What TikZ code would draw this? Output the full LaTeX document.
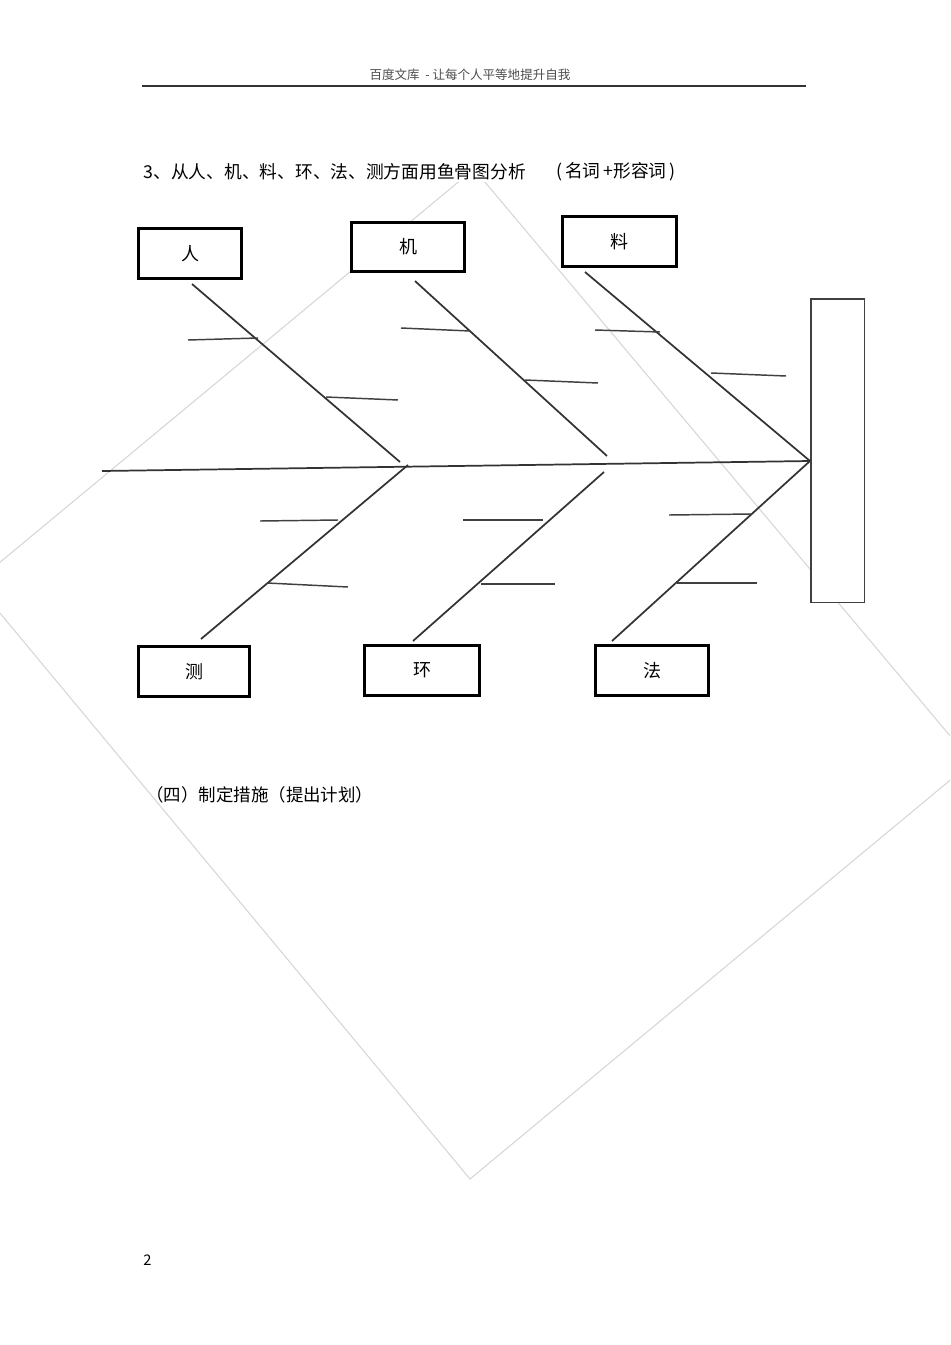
\documentclass[tikz,border=0pt]{standalone}
\usepackage{fontspec}
\setmainfont{Noto Sans CJK SC}
\begin{document}
\begin{tikzpicture}[x=0.75pt,y=-0.75pt,
  box/.style={draw=black, line width=2.2pt, fill=white, inner sep=0pt, font=\fontsize{13.5}{16}\selectfont},
  effectbox/.style={draw=black!75, line width=1.1pt, fill=white, inner sep=0pt},
  bone/.style={draw=black!80, line width=1.3pt},
  subbone/.style={draw=black!75, line width=1.1pt},
  wm/.style={draw=black!16, line width=0.8pt},
  txt/.style={inner sep=0pt, font=\fontsize{13.3}{16}\selectfont}]
\useasboundingbox (0,0) rectangle (950,1345);
% watermark rectangle
\begin{scope}
\clip (0,0) rectangle (950,1345);
\coordinate (wt) at (474,169);
\coordinate (wr) at (972,762);
\coordinate (wb) at (470,1179);
\coordinate (wl) at (-25,583);
\draw[wm] (wt) -- (wr) -- (wb) -- (wl) -- cycle;
\end{scope}
% header
\node[inner sep=0pt, text=black!70, font=\fontsize{9.4}{11}\selectfont] (hdr) at (470,75) {百度文库\ \ -\ 让每个人平等地提升自我};
\coordinate (hl) at (142,86);
\coordinate (hr) at (806,86);
\draw[black!80, line width=0.9pt] (hl) -- (hr);
% title
\node[txt, anchor=west, fill=white, inner sep=1pt] (title) at (142,172) {3、从人、机、料、环、法、测方面用鱼骨图分析};
\node[txt, anchor=west] (title2) at (556,172) {(\,名词\,+形容词\,)};
% boxes
\node[box, minimum width=77.25pt, minimum height=37.5pt] (ren) at (190,253.5) {人};
\node[box, minimum width=84.75pt, minimum height=36.75pt] (ji) at (408,247) {机};
\node[box, minimum width=85.5pt, minimum height=37.5pt] (liao) at (619.5,241.5) {料};
\node[box, minimum width=83.25pt, minimum height=37.5pt] (ce) at (194,671.5) {测};
\node[box, minimum width=86.25pt, minimum height=37.5pt] (huan) at (422,670.5) {环};
\node[box, minimum width=84.75pt, minimum height=37.5pt] (fa) at (652,670.5) {法};
\node[effectbox, minimum width=40.1pt, minimum height=227.6pt] (effect) at (837.5,450.5) {};
% spine
\coordinate (tail) at (102,471);
\coordinate (head) at (810,461);
\draw[bone] (tail) -- (head);
% upper bones
\coordinate (r1) at (192,284); \coordinate (r2) at (400,462);
\draw[bone] (r1) -- (r2);
\coordinate (ra1) at (188,340); \coordinate (ra2) at (258,338);
\coordinate (rb1) at (326,397); \coordinate (rb2) at (398,400);
\draw[subbone] (ra1) -- (ra2);
\draw[subbone] (rb1) -- (rb2);
\coordinate (j1) at (415,281); \coordinate (j2) at (607,456);
\draw[bone] (j1) -- (j2);
\coordinate (ja1) at (401,328); \coordinate (ja2) at (470,331);
\coordinate (jb1) at (525,380); \coordinate (jb2) at (598,383);
\draw[subbone] (ja1) -- (ja2);
\draw[subbone] (jb1) -- (jb2);
\coordinate (l1) at (585,272);
\draw[bone] (l1) -- (head);
\coordinate (la1) at (595,330); \coordinate (la2) at (660,332);
\coordinate (lb1) at (711,373); \coordinate (lb2) at (786,376);
\draw[subbone] (la1) -- (la2);
\draw[subbone] (lb1) -- (lb2);
% lower bones
\coordinate (c1) at (408,465); \coordinate (c2) at (201,639);
\draw[bone] (c1) -- (c2);
\coordinate (ca1) at (260,521); \coordinate (ca2) at (338,520);
\coordinate (cb1) at (267,583); \coordinate (cb2) at (348,587);
\draw[subbone] (ca1) -- (ca2);
\draw[subbone] (cb1) -- (cb2);
\coordinate (h1) at (604,472); \coordinate (h2) at (413,641);
\draw[bone] (h1) -- (h2);
\coordinate (ha1) at (463,520); \coordinate (ha2) at (543,520);
\coordinate (hb1) at (481,584); \coordinate (hb2) at (555,584);
\draw[subbone] (ha1) -- (ha2);
\draw[subbone] (hb1) -- (hb2);
\coordinate (f2) at (612,641);
\draw[bone] (head) -- (f2);
\coordinate (fa1) at (669,515); \coordinate (fa2) at (752,514);
\coordinate (fb1) at (677,583); \coordinate (fb2) at (757,583);
\draw[subbone] (fa1) -- (fa2);
\draw[subbone] (fb1) -- (fb2);
% bottom texts
\node[txt, anchor=west, font=\fontsize{13.1}{16}\selectfont] (measures) at (146,795) {（四）制定措施（提出计划）};
\node[inner sep=0pt, anchor=west, font=\fontsize{11}{13}\selectfont] (pageno) at (143,1260) {2};
\end{tikzpicture}
\end{document}
